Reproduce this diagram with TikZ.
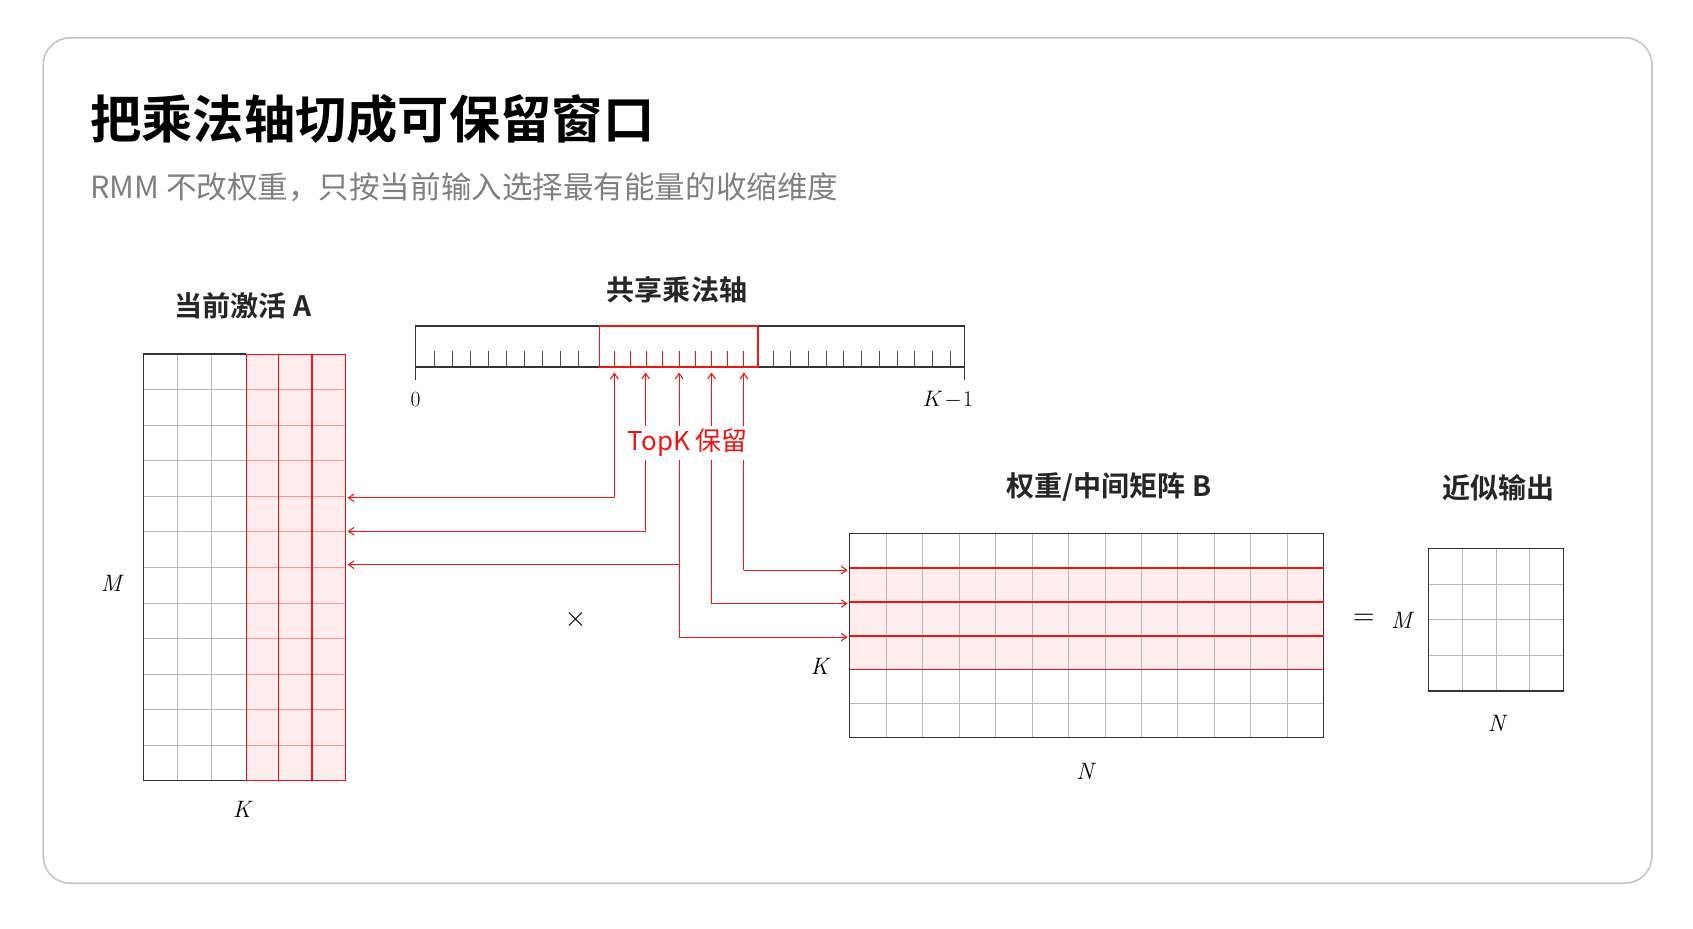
\documentclass[tikz,border=0pt]{standalone}
\usepackage{fontspec}
\newfontfamily\cjk{Noto Sans CJK SC}
\newfontfamily\cjkb{Noto Sans CJK SC Bold}
\usetikzlibrary{arrows.meta}
\definecolor{rd}{RGB}{240,20,20}
\begin{document}
\begin{tikzpicture}[x=1pt,y=-1pt,
  grid/.style={draw=gray!55,line width=0.8pt},
  frame/.style={draw=black!80,line width=1.3pt},
  rline/.style={draw=rd,line width=1.2pt},
  conn/.style={draw=rd,line width=1pt,-{Straight Barb[length=5pt,width=7pt]}},
  lab/.style={font=\cjkb\fontsize{26}{28}\selectfont,text=black!85},
  ml/.style={font=\fontsize{22}{24}\selectfont\itshape}]
\useasboundingbox (0,0) rectangle (1568,860);
\draw[draw=gray!45,line width=1.5pt,rounded corners=25pt,fill=white] (40,35) rectangle (1530,818);
\node[anchor=west,font=\cjkb\fontsize{47.5}{50}\selectfont] (title) at (80,110) {把乘法轴切成可保留窗口};
\node[anchor=west,font=\cjk\fontsize{28.3}{30}\selectfont,text=gray] (sub) at (80,173) {RMM 不改权重，只按当前输入选择最有能量的收缩维度};
% Matrix A
\fill[red!7] (228,328) rectangle (320,723);
\foreach \i in {1,...,11} \draw[grid] (133,328+32.92*\i) -- (228,328+32.92*\i);
\foreach \i in {1,...,11} \draw[draw=rd!45,line width=0.8pt] (228,328+32.92*\i) -- (320,328+32.92*\i);
\foreach \x in {164,196} \draw[grid] (\x,328) -- (\x,723);
\foreach \x in {228,258,289,320} \draw[rline] (\x,328) -- (\x,723);
\draw[frame] (228,328) -- (133,328) -- (133,723) -- (228,723);
\draw[rline] (228,328) -- (320,328) -- (320,723) -- (228,723);
\node (A) [minimum width=187pt,minimum height=395pt,inner sep=0] at (226.5,525.5) {};
\node[lab] (Alab) at (225,283) {当前激活 A};
\node[ml] (AM) at (103,540) {M};
\node[ml] (AK) at (224,750) {K};
% Axis
\draw[frame,line width=1.2pt] (385,302) rectangle (893,340);
\draw[frame,line width=1.2pt] (385,340) -- (385,352) (893,340) -- (893,352);
\foreach \i in {0,...,8} \draw[black!70,line width=0.8pt] (402+16.7*\i,325) -- (402+16.7*\i,340);
\foreach \i in {0,...,10} \draw[black!70,line width=0.8pt] (716+16.4*\i,325) -- (716+16.4*\i,340);
\foreach \i in {0,...,8} \draw[rd,line width=0.9pt] (569+15*\i,325) -- (569+15*\i,340);
\draw[rline] (555,302) rectangle (702,340);
\node (ax) [minimum width=508pt,minimum height=38pt,inner sep=0] at (639,321) {};
\node[lab] (axlab) at (627,268) {共享乘法轴};
\node[font=\fontsize{20}{22}\selectfont] (z) at (385,370) {0};
\node[font=\fontsize{20}{22}\selectfont] (km) at (878,370) {$K\!-\!1$};
% Matrix B
\fill[red!7] (787,526) rectangle (1226,620);
\foreach \i in {1,...,12} \draw[grid] (787+33.77*\i,494) -- (787+33.77*\i,683);
\draw[grid] (787,651.5) -- (1226,651.5);
\draw[frame] (787,494) rectangle (1226,683);
\foreach \y in {526,557.5,589,620} \draw[rline] (787,\y) -- (1226,\y);
\node (B) [minimum width=439pt,minimum height=189pt,inner sep=0] at (1006.5,588.5) {};
\node[lab] (Blab) at (1027,451) {权重/中间矩阵 B};
\node[ml] (BK) at (759,617) {K};
\node[ml] (BN) at (1005,714) {N};
% connectors
\draw[conn] (569,461) -- (569,345);
\draw[conn] (598,492) -- (598,345);
\draw[conn] (629,523) -- (629,345);
\draw[conn] (659,559) -- (659,345);
\draw[conn] (689,528) -- (689,345);
\draw[conn] (569,461) -- (322,461);
\draw[conn] (598,492) -- (322,492);
\draw[conn] (629,523) -- (322,523);
\draw[conn] (629,523) -- (629,590) -- (785,590);
\draw[conn] (659,559) -- (785,559);
\draw[conn] (689,528) -- (785,528);
\node[fill=white,font=\cjk\fontsize{24}{26}\selectfont,text=rd,inner sep=3pt] (topk) at (637,410) {TopK 保留};
\node[scale=2.6] (times) at (533,574) {$\times$};
\node[scale=2.6] (eq) at (1263,574) {$=$};
\node[ml] (CM) at (1298,575) {M};
% Output
\foreach \i in {1,2,3} \draw[grid] (1323+31.25*\i,508) -- (1323+31.25*\i,640);
\foreach \i in {1,2,3} \draw[grid] (1323,508+33*\i) -- (1448,508+33*\i);
\draw[frame] (1323,508) rectangle (1448,640);
\node (C) [minimum width=125pt,minimum height=132pt,inner sep=0] at (1385.5,574) {};
\node[lab] (Clab) at (1388,452) {近似输出};
\node[ml] (CN) at (1386,670) {N};
\end{tikzpicture}
\end{document}
